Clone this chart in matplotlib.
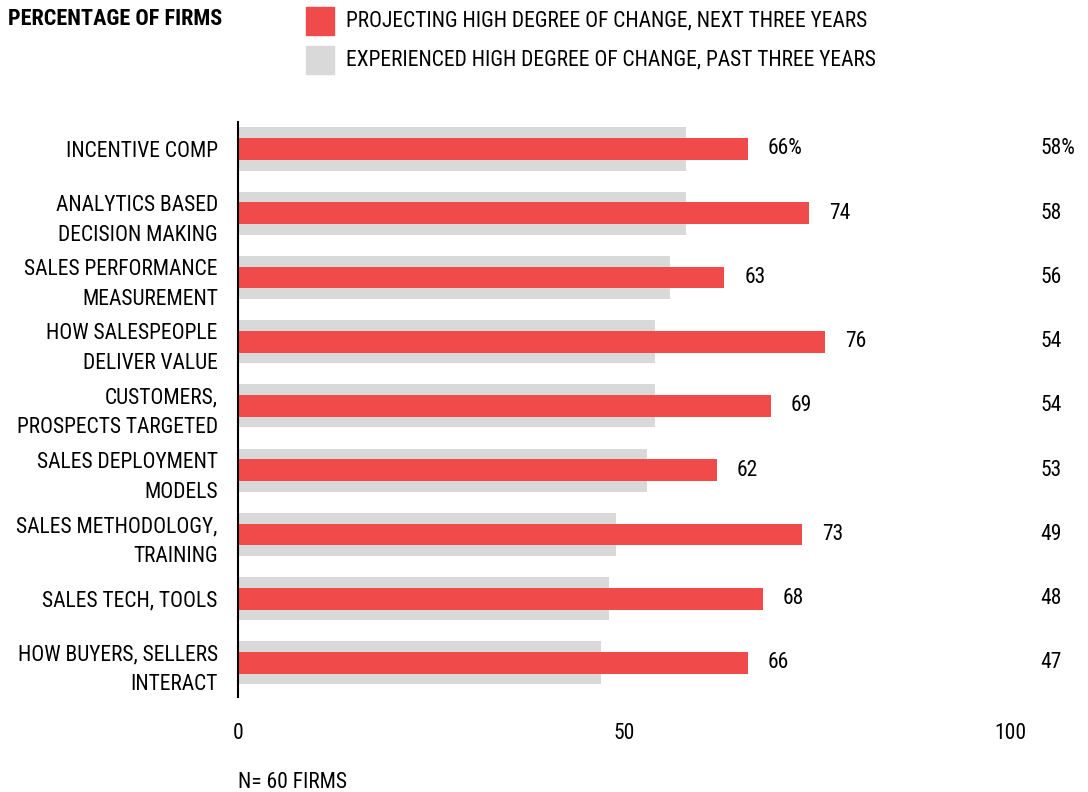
import matplotlib
matplotlib.use("Agg")
import numpy as np
from matplotlib import pyplot as plt

plt.rcParams['font.family'] = ['Roboto Condensed', 'DejaVu Sans']

categories = [
    "INCENTIVE COMP",
    "ANALYTICS BASED\nDECISION MAKING",
    "SALES PERFORMANCE\nMEASUREMENT",
    "HOW SALESPEOPLE\nDELIVER VALUE",
    "CUSTOMERS,\nPROSPECTS TARGETED",
    "SALES DEPLOYMENT\nMODELS",
    "SALES METHODOLOGY,\nTRAINING",
    "SALES TECH, TOOLS",
    "HOW BUYERS, SELLERS\nINTERACT",
]
next_three = [66, 74, 63, 76, 69, 62, 73, 68, 66]
past_three = [58, 58, 56, 54, 54, 53, 49, 48, 47]
x_ticks = [0, 50, 100]

RED = "#f04a4b"
GRAY = "#d9d9d9"
FS = 15.5

fig = plt.figure(figsize=(10.88, 7.92), dpi=100)
ax = fig.add_axes([238 / 1088, 1 - 697 / 792, (1010 - 238) / 1088, (697 - 122) / 792])

y = np.arange(len(categories))
ax.barh(y, past_three, height=0.67, color=GRAY, zorder=1)
ax.barh(y, next_three, height=0.34, color=RED, zorder=2)

ax.set_xlim(0, 100)
ax.set_ylim(len(categories) - 1 + 0.53, -0.42)

for i, (nv, pv) in enumerate(zip(next_three, past_three)):
    suffix = "%" if i == 0 else ""
    ax.text(nv + 2.6, i, f"{nv}{suffix}", va="center", ha="left", fontsize=FS)
    ax.text(103.9, i, f"{pv}{suffix}", va="center", ha="left", fontsize=FS, clip_on=False)

ax.set_yticks(y)
ax.set_yticklabels(categories, fontsize=FS, linespacing=1.55)
ax.set_xticks(x_ticks)
ax.set_xticklabels([str(t) for t in x_ticks], fontsize=FS)
ax.tick_params(axis="both", length=0)
ax.tick_params(axis="y", pad=14.5)
ax.tick_params(axis="x", pad=19)

for s in ["top", "right", "bottom"]:
    ax.spines[s].set_visible(False)
ax.spines["left"].set_linewidth(1.5)
ax.spines["left"].set_color("black")

# header and legend
fig.text(8 / 1088, 1 - 19 / 792, "PERCENTAGE OF FIRMS", fontsize=16, fontweight="bold", va="center", ha="left")
fig.patches.append(plt.Rectangle((306 / 1088, 1 - 35 / 792), 28 / 1088, 28 / 792, color=RED, transform=fig.transFigure))
fig.patches.append(plt.Rectangle((306 / 1088, 1 - 74 / 792), 28 / 1088, 28 / 792, color=GRAY, transform=fig.transFigure))
fig.text(346 / 1088, 1 - 21 / 792, "PROJECTING HIGH DEGREE OF CHANGE, NEXT THREE YEARS", fontsize=FS, va="center", ha="left")
fig.text(346 / 1088, 1 - 60 / 792, "EXPERIENCED HIGH DEGREE OF CHANGE, PAST THREE YEARS", fontsize=FS, va="center", ha="left")

fig.text(238 / 1088, 1 - 782 / 792, "N= 60 FIRMS", fontsize=FS, va="center", ha="left")

fig.savefig("out.png", dpi=100)
